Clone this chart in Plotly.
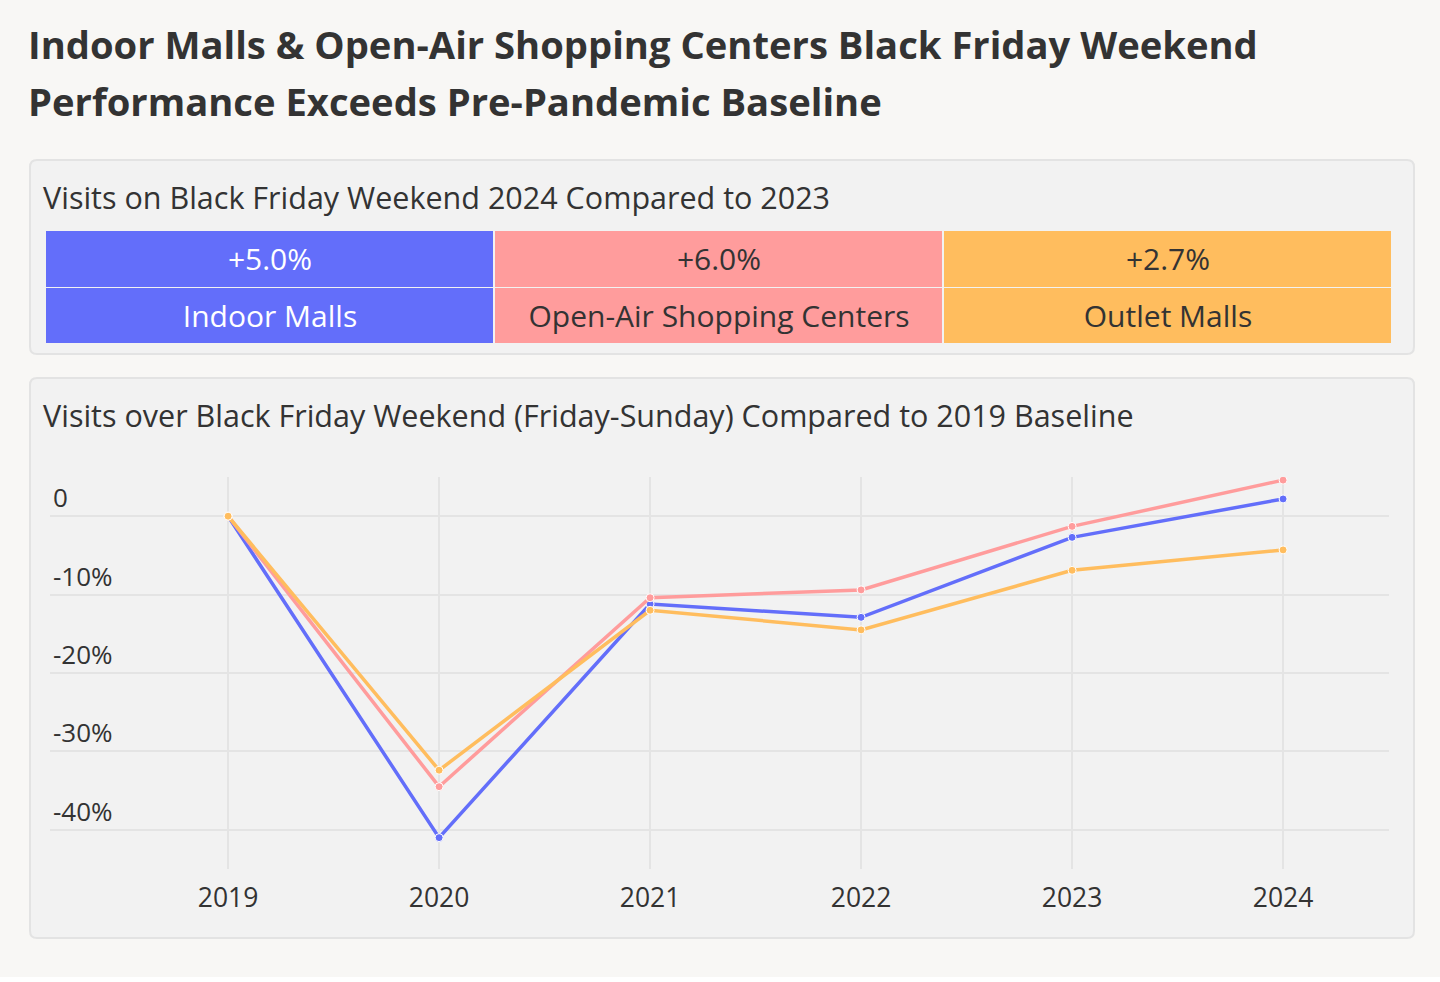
import plotly.graph_objects as go

# ---- data ----
years = ["2019", "2020", "2021", "2022", "2023", "2024"]
indoor = [0.0, -41.0, -11.2, -12.9, -2.7, 2.2]
open_air = [0.0, -34.5, -10.4, -9.4, -1.3, 4.6]
outlet = [0.0, -32.4, -12.0, -14.5, -6.9, -4.3]
series_names = ["Indoor Malls", "Open-Air Shopping Centers", "Outlet Malls"]
yoy_labels = ["+5.0%", "+6.0%", "+2.7%"]
y_tickvals = [0, -10, -20, -30, -40]
y_ticktext = ["0", "-10%", "-20%", "-30%", "-40%"]

W, H = 1440, 977
FONT = "Open Sans"
TXT = "#333333"
colors = ["#636efa", "#ff9c9c", "#ffbd5e"]
text_colors = ["#ffffff", TXT, TXT]
BG = "#f8f7f5"
PANEL = "#f2f2f2"


def px(x):
    return x / W


def py(y):
    return 1 - y / H


def rrect(x0, y0, x1, y1, r=7):
    X0, X1 = px(x0), px(x1)
    Y0, Y1 = py(y0), py(y1)
    rx, ry = r / W, r / H
    return (f"M{X0+rx},{Y0} L{X1-rx},{Y0} Q{X1},{Y0} {X1},{Y0-ry} "
            f"L{X1},{Y1+ry} Q{X1},{Y1} {X1-rx},{Y1} L{X0+rx},{Y1} "
            f"Q{X0},{Y1} {X0},{Y1+ry} L{X0},{Y0-ry} Q{X0},{Y0} {X0+rx},{Y0} Z")


fig = go.Figure()

# summary "table" of YoY changes: one 2-row column per series
for i, (lab, name, c, tc) in enumerate(zip(yoy_labels, series_names, colors, text_colors)):
    fig.add_trace(go.Heatmap(
        x=[i], y=[0, 1], z=[[1], [1]],
        text=[[lab], [name]], texttemplate="%{text}",
        textfont=dict(family=FONT, size=30, color=tc),
        colorscale=[[0, c], [1, c]], showscale=False,
        xgap=2, ygap=1, hoverinfo="skip",
        xaxis="x2", yaxis="y2"))

for name, vals, c in zip(series_names, [indoor, open_air, outlet], colors):
    fig.add_trace(go.Scatter(
        x=years, y=vals, name=name, mode="lines+markers",
        line=dict(color=c, width=3.5),
        marker=dict(size=8, color=c, line=dict(color="white", width=1)),
        showlegend=False))

fig.update_layout(
    width=W, height=H,
    margin=dict(l=0, r=0, t=0, b=0),
    paper_bgcolor=BG, plot_bgcolor=PANEL,
    font=dict(family=FONT, color=TXT),
    xaxis=dict(domain=[px(50), px(1389)], type="category",
               range=[-0.844, 5.502], showgrid=True, gridcolor="#e4e4e4",
               gridwidth=1.5, zeroline=False, showline=False,
               tickfont=dict(size=26.5, color=TXT), ticks="", ticklen=0,
               ticklabelstandoff=10),
    yaxis=dict(domain=[py(869), py(477)], range=[-45, 5],
               tickvals=y_tickvals, ticktext=y_ticktext,
               ticklabelposition="inside top", showgrid=True,
               gridcolor="#e4e4e4", gridwidth=1.5, zeroline=False,
               showline=False, tickfont=dict(size=26, color=TXT)),
    xaxis2=dict(domain=[px(45), px(1392)], range=[-0.5, 2.5], anchor="y2",
                visible=False, fixedrange=True),
    yaxis2=dict(domain=[py(344), py(231)], range=[1.5, -0.5], anchor="x2",
                visible=False, fixedrange=True),
    shapes=[
        dict(type="path", xref="paper", yref="paper", path=rrect(30, 160, 1414, 354),
             fillcolor=PANEL, line=dict(color="#e3e3e3", width=2), layer="below"),
        dict(type="path", xref="paper", yref="paper", path=rrect(30, 378, 1414, 938),
             fillcolor=PANEL, line=dict(color="#e3e3e3", width=2), layer="below"),
    ],
    annotations=[
        dict(text="<b>Indoor Malls & Open-Air Shopping Centers Black Friday Weekend</b>",
             x=px(26), y=py(44), xref="paper", yref="paper", xanchor="left",
             yanchor="middle", showarrow=False, font=dict(size=38.2, color=TXT)),
        dict(text="<b>Performance Exceeds Pre-Pandemic Baseline</b>",
             x=px(26), y=py(101), xref="paper", yref="paper", xanchor="left",
             yanchor="middle", showarrow=False, font=dict(size=38.2, color=TXT)),
        dict(text="Visits on Black Friday Weekend 2024 Compared to 2023",
             x=px(41), y=py(197), xref="paper", yref="paper", xanchor="left",
             yanchor="middle", showarrow=False, font=dict(size=30.5, color=TXT)),
        dict(text="Visits over Black Friday Weekend (Friday-Sunday) Compared to 2019 Baseline",
             x=px(41), y=py(415), xref="paper", yref="paper", xanchor="left",
             yanchor="middle", showarrow=False, font=dict(size=30.5, color=TXT)),
    ],
)

fig.write_html("out.html", config={"displayModeBar": False},
               post_script="document.body.style.margin='0';")
